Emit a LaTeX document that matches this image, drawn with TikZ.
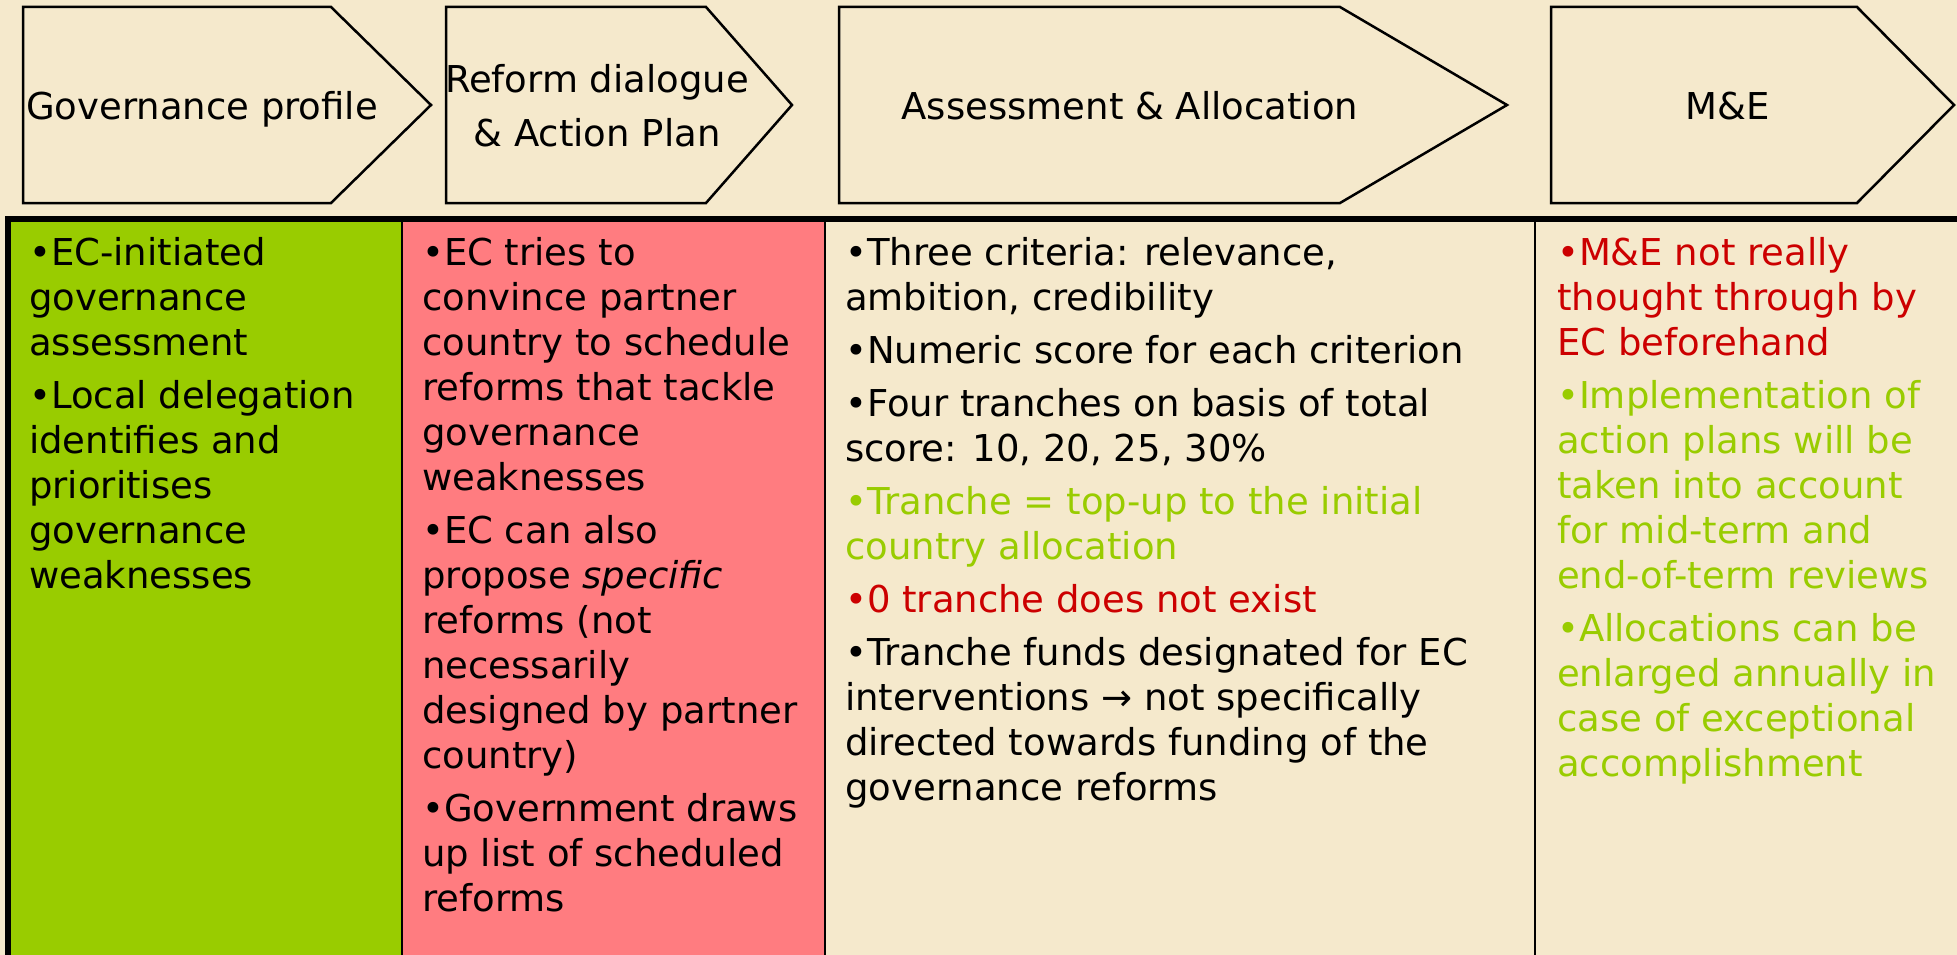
\documentclass[tikz,border=0pt]{standalone}
\usepackage{fontspec}
\setmainfont{DejaVu Sans}
\definecolor{bgbeige}{HTML}{F5E9CC}
\definecolor{cellgreen}{HTML}{99CC00}
\definecolor{cellpink}{HTML}{FF7C80}
\definecolor{txtred}{HTML}{CC0000}
\definecolor{txtgreen}{HTML}{99CC00}
\newcommand{\bodyfont}{\fontsize{37}{45}\selectfont}
\begin{document}
\begin{tikzpicture}[x=1pt,y=-1pt,
  chev/.style={draw=black, line width=2.5pt, fill=bgbeige, line join=miter},
  hdr/.style={inner sep=0pt, anchor=base, font=\fontsize{37}{54}\selectfont},
  bodytext/.style={inner sep=0pt, anchor=base west},
  divider/.style={draw=black, line width=2pt},
  frame/.style={draw=black, line width=6pt}]
\useasboundingbox (0,0) rectangle (1957,955);
\fill[bgbeige] (0,0) rectangle (1957,955);

% header chevrons
\draw[chev] (23,7) -- (331,7) -- (431,105) -- (331,203) -- (23,203) -- cycle;
\draw[chev] (446,7) -- (706,7) -- (792,105) -- (706,203) -- (446,203) -- cycle;
\draw[chev] (839,7) -- (1340,7) -- (1507,105) -- (1340,203) -- (839,203) -- cycle;
\draw[chev] (1551,7) -- (1857,7) -- (1954,105) -- (1857,203) -- (1551,203) -- cycle;

\node[hdr] (h1) at (202,120) {Governance profile};
\node[hdr] (h2) at (597,93) {\parbox[t]{400pt}{\centering\fontsize{37}{54}\selectfont Reform dialogue\\\& Action Plan}};
\node[hdr] (h3) at (1130,120) {Assessment \& Allocation};
\node[hdr] (h4) at (1728,120) {M\&E};

% table cells
\fill[cellgreen] (11,222) rectangle (402,955);
\fill[cellpink] (402,222) rectangle (825,955);
\draw[divider] (402,222) -- (402,955);
\draw[divider] (825,222) -- (825,955);
\draw[divider] (1535,222) -- (1535,955);
\draw[frame] (5,219) -- (1957,219);
\draw[frame] (8,216) -- (8,955);

% column texts
\node[bodytext] (c1) at (29,265) {\parbox[t]{380pt}{\raggedright\bodyfont
•EC-initiated\\governance\\assessment\\[8pt]
•Local delegation\\identifies and\\prioritises\\governance\\weaknesses}};

\node[bodytext] (c2) at (422,265) {\parbox[t]{400pt}{\raggedright\bodyfont
•EC tries to\\convince partner\\country to schedule\\reforms that tackle\\governance\\weaknesses\\[8pt]
•EC can also\\propose \textit{specific}\\reforms (not\\necessarily\\designed by partner\\country)\\[8pt]
•Government draws\\up list of scheduled\\reforms}};

\node[bodytext] (c3) at (845,265) {\parbox[t]{690pt}{\raggedright\bodyfont
•Three criteria: relevance,\\ambition, credibility\\[8pt]
•Numeric score for each criterion\\[8pt]
•Four tranches on basis of total\\score: 10, 20, 25, 30\%\\[8pt]
\leavevmode\color{txtgreen}•Tranche = top-up to the initial\\country allocation\\[8pt]
\leavevmode\color{txtred}•0 tranche does not exist\\[8pt]
\leavevmode\color{black}•Tranche funds designated for EC\\interventions → not specifically\\directed towards funding of the\\governance reforms}};

\node[bodytext] (c4) at (1557,265) {\parbox[t]{400pt}{\raggedright\bodyfont
\leavevmode\color{txtred}•M\&E not really\\thought through by\\EC beforehand\\[8pt]
\leavevmode\color{txtgreen}•Implementation of\\action plans will be\\taken into account\\for mid-term and\\end-of-term reviews\\[8pt]
•Allocations can be\\enlarged annually in\\case of exceptional\\accomplishment}};
\end{tikzpicture}
\end{document}
